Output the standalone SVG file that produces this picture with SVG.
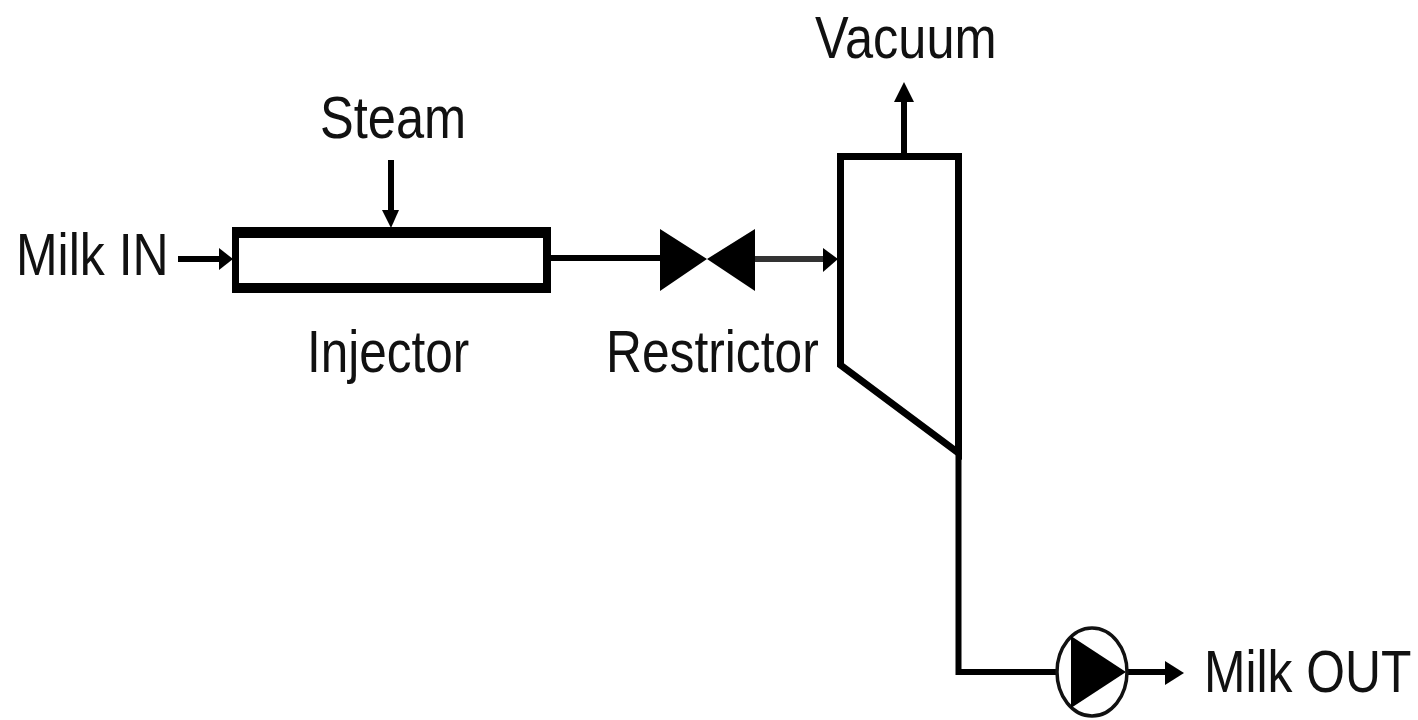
<svg xmlns="http://www.w3.org/2000/svg" width="1418" height="720" viewBox="0 0 1418 720">
<style>
text{font-family:"Liberation Sans",Arial,sans-serif;font-size:60px;fill:#111}
.l{fill:none;stroke:#000;stroke-width:6}
.s{fill:none;stroke:#000;stroke-width:7}
.h{fill:#000;stroke:none}
</style>
<rect width="1418" height="720" fill="#fff"/>
<g id="connectors">
<path class="l" d="M178 259H222"/><path class="h" d="M233 259L219 248V270Z"/>
<path class="l" d="M391 160V214"/><path class="h" d="M391 228L382 210H399Z"/>
<path class="l" d="M551 258H662"/>
<path class="l" d="M750 259H826" style="stroke:#333"/><path class="h" d="M838 259L823 248V272Z"/>
<path class="l" d="M904 153V98"/><path class="h" d="M904 82L894 102H914Z"/>
<path class="l" d="M958.500 453V672H1060"/>
<path class="l" d="M1124 672H1170"/><path class="h" d="M1184 673L1165 661V685Z"/>
</g>
<g id="steam"><text transform="translate(320 138) scale(.843 1)">Steam</text></g>
<g id="milk-in"><text transform="translate(16 275) scale(.833 1)">Milk IN</text></g>
<g id="injector">
<path fill="#000" fill-rule="evenodd" d="M232 227H551V293H232ZM239 238V283H543V238Z"/>
<text transform="translate(307 372) scale(.824 1)">Injector</text>
</g>
<g id="restrictor">
<path class="h" d="M660 229L707 259L660 291ZM755 229L707 259L755 291Z"/>
<text transform="translate(606 372) scale(.829 1)">Restrictor</text>
</g>
<g id="separator">
<path class="s" d="M840.500 156.500H958.500V453L840.500 365Z" fill="#fff"/>
</g>
<g id="vacuum"><text transform="translate(815 58) scale(.842 1)">Vacuum</text></g>
<g id="pump">
<ellipse cx="1092" cy="672" rx="35" ry="44" fill="#fff" stroke="#111" stroke-width="3.500"/>
<path class="h" d="M1071 636L1126 672L1071 708Z"/>
</g>
<g id="milk-out"><text transform="translate(1204 692) scale(.83 1)">Milk OUT</text></g>
</svg>
